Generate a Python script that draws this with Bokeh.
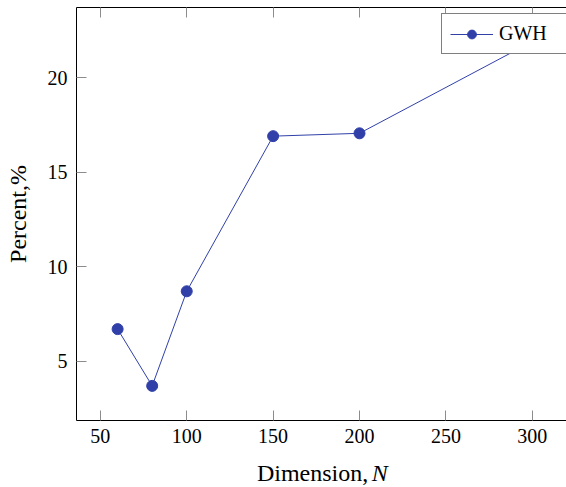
from bokeh.plotting import figure
from bokeh.layouts import column
from bokeh.models import LinearAxis, FixedTicker, Range1d
from bokeh.core.properties import value
from bokeh.embed import file_html
from bokeh.resources import INLINE

# ---- data ----
dimension = [60, 80, 100, 150, 200, 300]
percent = [6.7, 3.7, 8.7, 16.9, 17.05, 21.9]
x_ticks = [50, 100, 150, 200, 250, 300]
y_ticks = [5, 10, 15, 20]
series_name = "GWH"
x_label = "Dimension,"
x_label_var = "N"
y_label = "Percent,%"

color = "#3040a8"
font = "Liberation Serif"
tick_color = "#8c8c8c"

W, H = 566, 487
LABEL_H = 32
main = figure(width=W, height=H - LABEL_H, output_backend="svg", toolbar_location=None,
              x_range=Range1d(36.2, 319.8), y_range=Range1d(1.87, 23.7),
              min_border_left=76, min_border_right=0, min_border_top=7,
              min_border_bottom=35)
main.outline_line_color = None
main.xgrid.visible = False
main.ygrid.visible = False
main.background_fill_color = "white"
main.border_fill_color = "white"

main.axis.axis_line_color = "black"
main.axis.axis_line_width = 1
main.axis.major_tick_line_color = tick_color
main.axis.major_tick_in = 10
main.axis.major_tick_out = 0
main.axis.minor_tick_in = 0
main.axis.minor_tick_out = 0
main.axis.major_label_text_font = font
main.axis.major_label_text_font_size = "20px"
main.axis.major_label_text_color = "black"

main.xaxis.ticker = FixedTicker(ticks=x_ticks)
main.yaxis.ticker = FixedTicker(ticks=y_ticks)
main.xaxis.major_label_standoff = 8
main.yaxis.major_label_standoff = 9

main.yaxis.axis_label = y_label
main.yaxis.axis_label_text_font = font
main.yaxis.axis_label_text_font_size = "24px"
main.yaxis.axis_label_text_font_style = "normal"
main.yaxis.axis_label_text_color = "black"
main.yaxis.axis_label_standoff = 14

top_axis = LinearAxis(ticker=FixedTicker(ticks=x_ticks),
                      major_label_text_font_size="0px",
                      major_label_overrides={t: "" for t in x_ticks},
                      major_label_standoff=0,
                      major_tick_in=10, major_tick_out=0,
                      minor_tick_in=0, minor_tick_out=0,
                      axis_line_color="black",
                      major_tick_line_color=tick_color)
main.add_layout(top_axis, "above")

main.line(dimension, percent, line_color=color, line_width=1, legend_label=series_name)
main.scatter(dimension, percent, size=11, fill_color=color, line_color=color,
             legend_label=series_name)

lg = main.legend[0]
lg.location = (365, 366)
lg.label_text_font = font
lg.label_text_font_size = "20px"
lg.label_text_color = "black"
lg.border_line_color = "black"
lg.border_line_width = 1
lg.padding = 8
lg.glyph_width = 43
lg.glyph_height = 22
lg.label_height = 22
lg.label_width = 61
lg.label_standoff = 6
lg.spacing = 0
lg.margin = 0
lg.background_fill_alpha = 1

# x-axis title strip (regular "Dimension," + italic "N")
strip = figure(width=W, height=LABEL_H, output_backend="svg", toolbar_location=None,
               x_range=Range1d(0, W), y_range=Range1d(0, LABEL_H),
               min_border=0, x_axis_location=None, y_axis_location=None)
strip.outline_line_color = None
strip.xgrid.visible = False
strip.ygrid.visible = False
strip.text(x=[337], y=[15], text=[x_label], text_align="right",
           text_baseline="alphabetic", text_font=value(font),
           text_font_size="24px", text_color="black")
strip.text(x=[341], y=[15], text=[x_label_var], text_align="left",
           text_baseline="alphabetic", text_font=value(font),
           text_font_size="24px", text_font_style="italic", text_color="black")

p = column(main, strip, spacing=0)

open("out.html", "w").write(file_html(p, INLINE))
